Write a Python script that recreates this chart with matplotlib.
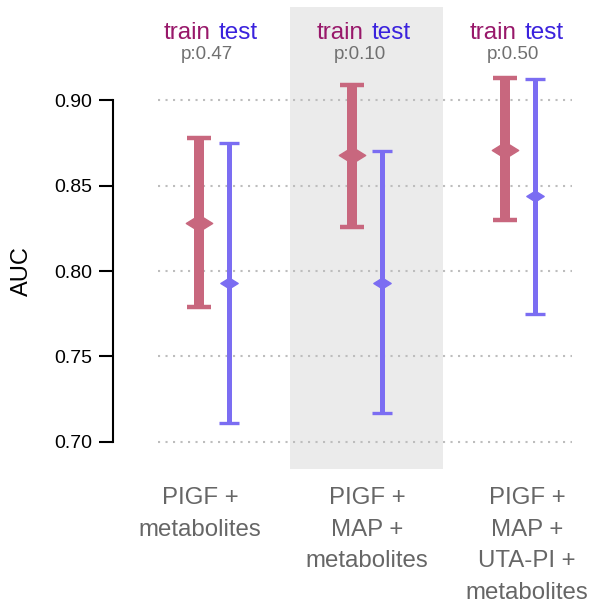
import matplotlib
matplotlib.use("Agg")
import matplotlib.pyplot as plt
import matplotlib.transforms as mtransforms
from matplotlib.path import Path
import numpy as np

plt.rcParams['font.family'] = ['Liberation Sans', 'DejaVu Sans']

categories = ["PIGF +\nmetabolites", "PIGF +\nMAP +\nmetabolites", "PIGF +\nMAP +\nUTA-PI +\nmetabolites"]
p_values = ["p:0.47", "p:0.10", "p:0.50"]
train_mean = [0.828, 0.868, 0.871]
train_low = [0.779, 0.826, 0.830]
train_high = [0.878, 0.909, 0.913]
test_mean = [0.793, 0.793, 0.844]
test_low = [0.711, 0.717, 0.775]
test_high = [0.875, 0.870, 0.912]
yticks = [0.70, 0.75, 0.80, 0.85, 0.90]

train_color = "#C8677E"
test_color = "#7B6DF2"
train_title_color = "#98186A"
test_title_color = "#3A22DD"

W, H = 590, 602
fig = plt.figure(figsize=(W/100, H/100), dpi=100)
ax = fig.add_axes([158/W, (H-469)/H, (572-158)/W, (469-7)/H])

x = np.arange(len(categories))
ax.set_xlim(-0.366, 2.34)
ax.set_ylim(0.6842, 0.9544)

ax.axvspan(0.5, 1.5, color="#EBEBEB", zorder=0, lw=0)
for yt in yticks:
    ax.axhline(yt, color="#BDBDBD", lw=1.5, ls=(0, (1, 2.6)), zorder=1)

diamond = Path([(-1, 0), (0, 0.62), (1, 0), (0, -0.62), (-1, 0)],
               [Path.MOVETO, Path.LINETO, Path.LINETO, Path.LINETO, Path.CLOSEPOLY])

off = 0.1
tm = np.array(train_mean)
ax.errorbar(x - off, tm, yerr=[tm - np.array(train_low), np.array(train_high) - tm],
            fmt='none', ecolor=train_color, elinewidth=7.2, capsize=8.5, capthick=3.2, zorder=3)
ax.plot(x - off, tm, ls='none', marker=diamond, ms=19, color=train_color, zorder=4)

sm = np.array(test_mean)
ax.errorbar(x + off, sm, yerr=[sm - np.array(test_low), np.array(test_high) - sm],
            fmt='none', ecolor=test_color, elinewidth=3.6, capsize=7.5, capthick=2.4, zorder=3)
ax.plot(x + off, sm, ls='none', marker=diamond, ms=12.5, color=test_color, zorder=4)

for xi, p in zip(x, p_values):
    ax.text(xi - 0.02, 0.9391, "train", ha='right', va='center', fontsize=17.5, color=train_title_color)
    ax.text(xi + 0.033, 0.9391, "test", ha='left', va='center', fontsize=17.5, color=test_title_color)
    ax.text(xi - 0.045, 0.9266, p, ha='center', va='center', fontsize=13.5, color="#707070")

label_dx = [-0.09, 0.0, 0.045]
trans = mtransforms.blended_transform_factory(ax.transData, ax.transAxes)
for xi, lab, dx in zip(x, categories, label_dx):
    ax.text(xi + dx, -0.040, lab, ha='center', va='top', fontsize=17.3, color="#666666",
            linespacing=1.55, transform=trans)

for s in ['top', 'right', 'bottom']:
    ax.spines[s].set_visible(False)
ax.spines['left'].set_position(('outward', 32.4))
ax.spines['left'].set_bounds(0.70, 0.90)
ax.spines['left'].set_linewidth(1.5)
ax.set_xticks([])
ax.set_yticks(yticks)
ax.set_yticklabels([f"{v:.2f}" for v in yticks], fontsize=14)
ax.tick_params(axis='y', length=10, width=1.5, pad=5)

ftrans = mtransforms.blended_transform_factory(fig.transFigure, ax.transData)
ax.text(22/W, 0.80, "AUC", rotation=90, ha='center', va='center', fontsize=17, transform=ftrans)

fig.savefig("out.png", dpi=100)
